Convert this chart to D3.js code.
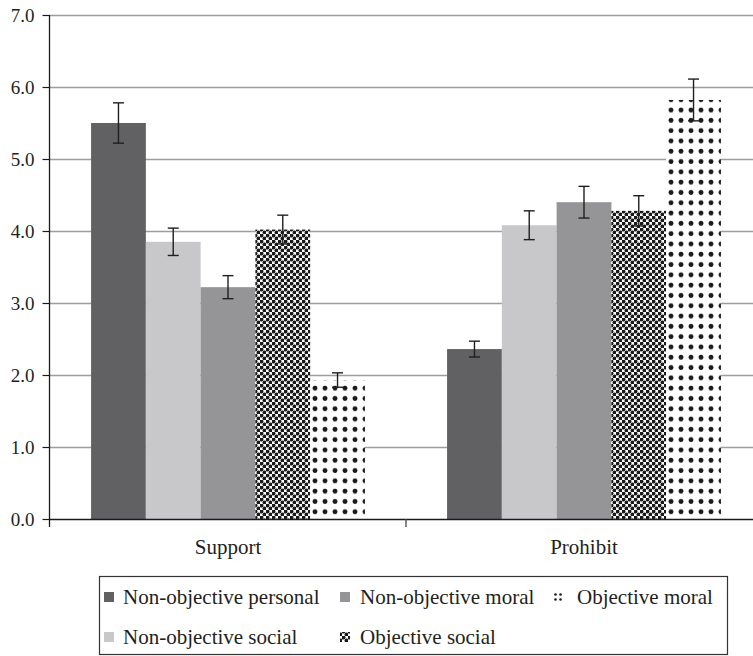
<!DOCTYPE html>
<html>
<head>
<meta charset="utf-8">
<script src="https://cdn.jsdelivr.net/npm/d3@7"></script>
<style>
  html, body { margin: 0; padding: 0; background: #fff; }
  svg { display: block; }
</style>
</head>
<body>
<svg id="chart" width="753" height="656"></svg>
<script>
// Mean ratings by condition, with error-bar half widths
const categories = ["Support", "Prohibit"];
const seriesNames = ["Non-objective personal", "Non-objective social", "Non-objective moral", "Objective social", "Objective moral"];
const supportValues = [5.50, 3.85, 3.22, 4.02, 1.93];
const supportErrors = [0.28, 0.19, 0.16, 0.20, 0.10];
const prohibitValues = [2.36, 4.08, 4.40, 4.28, 5.82];
const prohibitErrors = [0.11, 0.20, 0.22, 0.21, 0.29];
const yTicks = [0, 1, 2, 3, 4, 5, 6, 7];

const SERIF = "'Liberation Serif', 'Times New Roman', Times, serif";

const svg = d3.select("#chart");
const defs = svg.append("defs");

// Checkerboard of dots for "Objective social"
const checker = defs.append("pattern")
  .attr("id", "checker").attr("patternUnits", "userSpaceOnUse")
  .attr("width", 6).attr("height", 6);
checker.append("rect").attr("width", 6).attr("height", 6).attr("fill", "#fff");
checker.append("circle").attr("cx", 1.5).attr("cy", 1.5).attr("r", 1.95).attr("fill", "#1a1a1a");
checker.append("circle").attr("cx", 4.5).attr("cy", 4.5).attr("r", 1.95).attr("fill", "#1a1a1a");

// Spaced dot grid for "Objective moral"
const dots = defs.append("pattern")
  .attr("id", "dots").attr("patternUnits", "userSpaceOnUse")
  .attr("width", 10).attr("height", 10.3).attr("y", 2);
dots.append("rect").attr("width", 10).attr("height", 10.3).attr("fill", "#fff");
dots.append("circle").attr("cx", 5).attr("cy", 5).attr("r", 2.4).attr("fill", "#1a1a1a");

// Smaller dot grid used by the legend key of "Objective moral"
const dotsKey = defs.append("pattern")
  .attr("id", "dotsKey").attr("patternUnits", "userSpaceOnUse")
  .attr("width", 5).attr("height", 5).attr("x", 553).attr("y", 592);
dotsKey.append("rect").attr("width", 5).attr("height", 5).attr("fill", "#fff");
dotsKey.append("circle").attr("cx", 2.5).attr("cy", 2.5).attr("r", 1.3).attr("fill", "#1a1a1a");

const fills = {
  "Non-objective personal": "#616163",
  "Non-objective social": "#c8c8ca",
  "Non-objective moral": "#959597",
  "Objective social": "url(#checker)",
  "Objective moral": "url(#dots)"
};
const keyFills = Object.assign({}, fills, { "Objective moral": "url(#dotsKey)" });

const rows = [
  { cat: "Support", values: supportValues, errors: supportErrors },
  { cat: "Prohibit", values: prohibitValues, errors: prohibitErrors }
];

const x = d3.scaleBand().domain(categories).range([50, 762]).padding(0);
const x1 = d3.scaleBand().domain(seriesNames).range([0, x.bandwidth()])
  .paddingInner(0).paddingOuter(0.75);
const y = d3.scaleLinear().domain([0, 7]).range([519, 15]);

// Horizontal gridlines
svg.append("g").selectAll("line")
  .data(yTicks.filter(d => d > 0))
  .join("line")
  .attr("x1", 49).attr("x2", 762)
  .attr("y1", d => Math.round(y(d)) + 0.5).attr("y2", d => Math.round(y(d)) + 0.5)
  .attr("stroke", "#9d9d9f").attr("stroke-width", 1.6);

// Bars
const groups = svg.append("g").selectAll("g")
  .data(rows).join("g")
  .attr("transform", d => `translate(${x(d.cat)},0)`);

groups.selectAll("rect")
  .data(d => seriesNames.map((s, i) => ({ s, v: d.values[i], e: d.errors[i] })))
  .join("rect")
  .attr("x", d => x1(d.s))
  .attr("width", x1.bandwidth())
  .attr("y", d => y(d.v))
  .attr("height", d => y(0) - y(d.v))
  .attr("fill", d => fills[d.s]);

// Error bars
const eb = groups.selectAll("g.err")
  .data(d => seriesNames.map((s, i) => ({ s, v: d.values[i], e: d.errors[i] })))
  .join("g").attr("class", "err")
  .attr("stroke", "#1f1f1f").attr("stroke-width", 1.4).attr("fill", "none");
eb.append("line")
  .attr("x1", d => x1(d.s) + x1.bandwidth() / 2).attr("x2", d => x1(d.s) + x1.bandwidth() / 2)
  .attr("y1", d => y(d.v + d.e)).attr("y2", d => y(d.v - d.e));
eb.append("line")
  .attr("x1", d => x1(d.s) + x1.bandwidth() / 2 - 5.5).attr("x2", d => x1(d.s) + x1.bandwidth() / 2 + 5.5)
  .attr("y1", d => y(d.v + d.e)).attr("y2", d => y(d.v + d.e));
eb.append("line")
  .attr("x1", d => x1(d.s) + x1.bandwidth() / 2 - 5.5).attr("x2", d => x1(d.s) + x1.bandwidth() / 2 + 5.5)
  .attr("y1", d => y(d.v - d.e)).attr("y2", d => y(d.v - d.e));

// Y axis
const yAxis = svg.append("g")
  .attr("transform", "translate(49.5,0)")
  .call(d3.axisLeft(y).tickValues(yTicks).tickFormat(d3.format(".1f")).tickSize(7).tickPadding(8));
yAxis.attr("font-family", null).attr("font-size", null);
yAxis.select(".domain").attr("stroke", "#1a1a1a").attr("stroke-width", 1.3)
  .attr("d", `M0,${y(7)}V${y(0) + 8}`);
yAxis.selectAll(".tick line").attr("stroke", "#1a1a1a").attr("stroke-width", 1.2);
yAxis.selectAll(".tick text")
  .attr("fill", "#231f20")
  .style("font-family", SERIF).style("font-size", "19px");

// X axis: baseline with ticks at category boundaries
const xAxis = svg.append("g");
xAxis.append("line")
  .attr("x1", 49).attr("x2", 762)
  .attr("y1", y(0) + 0.5).attr("y2", y(0) + 0.5)
  .attr("stroke", "#1a1a1a").attr("stroke-width", 1.4);
xAxis.selectAll("line.tick")
  .data(categories.slice(1))
  .join("line").attr("class", "tick")
  .attr("x1", d => x(d)).attr("x2", d => x(d))
  .attr("y1", y(0)).attr("y2", y(0) + 8)
  .attr("stroke", "#444").attr("stroke-width", 1.3);
xAxis.selectAll("text")
  .data(categories)
  .join("text")
  .attr("x", d => x(d) + x.bandwidth() / 2)
  .attr("y", 554)
  .attr("text-anchor", "middle")
  .attr("fill", "#231f20")
  .style("font-family", SERIF).style("font-size", "21px")
  .text(d => d);

// Legend
const legend = svg.append("g");
legend.append("rect")
  .attr("x", 99.5).attr("y", 576.5).attr("width", 628).attr("height", 78)
  .attr("fill", "#fff").attr("stroke", "#333").attr("stroke-width", 1.2);

const legendItems = [
  { s: "Non-objective personal", sx: 104, tx: 123, row: 0 },
  { s: "Non-objective moral", sx: 340, tx: 360, row: 0 },
  { s: "Objective moral", sx: 553, tx: 577, row: 0 },
  { s: "Non-objective social", sx: 104, tx: 123, row: 1 },
  { s: "Objective social", sx: 340, tx: 360, row: 1 }
];
const rowBase = [604, 644];
const li = legend.selectAll("g.item").data(legendItems).join("g").attr("class", "item");
li.append("rect")
  .attr("x", d => d.sx).attr("y", d => rowBase[d.row] - 12)
  .attr("width", 10).attr("height", 10)
  .attr("fill", d => keyFills[d.s]);
li.append("text")
  .attr("x", d => d.tx).attr("y", d => rowBase[d.row])
  .attr("fill", "#231f20")
  .style("font-family", SERIF).style("font-size", "21px")
  .text(d => d.s);
</script>
</body>
</html>
